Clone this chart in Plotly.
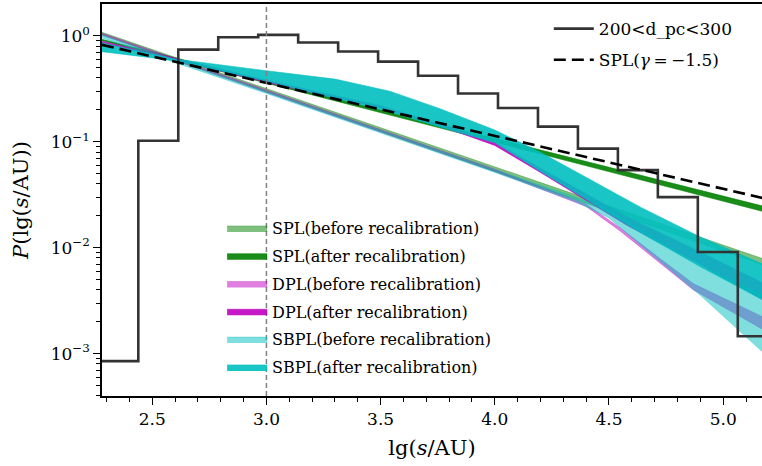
import plotly.graph_objects as go

# ---------------- data ----------------
hist_edges = [2.264, 2.439, 2.614, 2.789, 2.964, 3.139, 3.314, 3.489, 3.664,
              3.839, 4.014, 4.189, 4.364, 4.539, 4.714, 4.889, 5.064, 5.239]
hist_vals = [0.00085, 0.102, 0.74, 0.97, 1.02, 0.865, 0.71, 0.57, 0.42,
             0.285, 0.208, 0.139, 0.086, 0.054, 0.030, 0.0091, 0.00146]

spl15_x = [2.28, 5.18]
spl15_y = [0.822, 0.0292]

spl_before_x = [2.28, 5.18]
spl_before_hi = [1.08, 0.0078]
spl_before_lo = [1.02, 0.0068]

spl_after_x = [2.28, 5.18]
spl_after_hi = [0.925, 0.0245]
spl_after_lo = [0.90, 0.0218]

dpl_before_x = [2.28, 3.0, 4.0, 4.4, 4.55, 4.71, 4.87, 5.18]
dpl_before_hi = [1.059, 0.305, 0.0550, 0.0257, 0.0153, 0.00832, 0.00457, 0.00219]
dpl_before_lo = [1.012, 0.292, 0.0525, 0.0245, 0.0143, 0.00759, 0.00398, 0.00166]

dpl_after_x = [2.28, 2.6, 3.0, 3.5, 3.76, 4.0, 4.2, 4.58, 4.9, 5.18]
dpl_after_hi = [0.887, 0.614, 0.380, 0.219, 0.148, 0.0989, 0.0562, 0.0195, 0.00912, 0.00457]
dpl_after_lo = [0.855, 0.592, 0.363, 0.209, 0.141, 0.0923, 0.0513, 0.0162, 0.00692, 0.00316]

sbpl_before_x = [2.28, 3.0, 4.0, 4.35, 4.5, 4.64, 4.9, 5.18]
sbpl_before_hi = [1.023, 0.302, 0.0550, 0.0302, 0.0229, 0.0145, 0.00661, 0.00355]
sbpl_before_lo = [0.955, 0.285, 0.0513, 0.0275, 0.0191, 0.0105, 0.00355, 0.0010]

sbpl_after_x = [2.28, 2.6, 3.0, 3.3, 3.54, 3.76, 4.0, 4.2, 4.64, 4.9, 5.18]
sbpl_after_hi = [0.859, 0.603, 0.468, 0.390, 0.300, 0.205, 0.129, 0.0794, 0.0240, 0.0126, 0.00692]
sbpl_after_lo = [0.708, 0.582, 0.372, 0.257, 0.191, 0.138, 0.0977, 0.0525, 0.0138, 0.00661, 0.00316]

ytick_vals = [1e-3, 1e-2, 1e-1, 1]
ytick_text = ["10<sup>\u22123</sup>", "10<sup>\u22122</sup>", "10<sup>\u22121</sup>", "10<sup>0</sup>"]

FONT = "DejaVu Serif"

bands = [
    ("SPL(before recalibration)", spl_before_x, spl_before_hi, spl_before_lo, "rgba(0,128,0,0.5)"),
    ("SPL(after recalibration)", spl_after_x, spl_after_hi, spl_after_lo, "rgba(0,128,0,0.9)"),
    ("DPL(before recalibration)", dpl_before_x, dpl_before_hi, dpl_before_lo, "rgba(191,0,191,0.5)"),
    ("DPL(after recalibration)", dpl_after_x, dpl_after_hi, dpl_after_lo, "rgba(191,0,191,0.9)"),
    ("SBPL(before recalibration)", sbpl_before_x, sbpl_before_hi, sbpl_before_lo, "rgba(0,191,191,0.5)"),
    ("SBPL(after recalibration)", sbpl_after_x, sbpl_after_hi, sbpl_after_lo, "rgba(0,191,191,0.9)"),
]

fig = go.Figure()

for i, (name, xs, hi, lo, col) in enumerate(bands):
    fig.add_trace(go.Scatter(
        x=list(xs) + list(xs)[::-1],
        y=list(hi) + list(lo)[::-1],
        fill="toself", fillcolor=col,
        line=dict(color=col, width=0.6),
        mode="lines", name=name, legend="legend2",
        legendgroup=f"g{i}", hoverinfo="skip",
    ))

fig.add_trace(go.Scatter(
    x=hist_edges, y=hist_vals + [hist_vals[-1]],
    mode="lines", line=dict(color="#333333", width=2.6, shape="hv"),
    name="200<d_pc<300", legend="legend", legendgroup="h1",
))
fig.add_trace(go.Scatter(
    x=spl15_x, y=spl15_y, mode="lines",
    line=dict(color="black", width=2.6, dash="12px,6px"),
    name="SPL(<i>\u03b3</i>\u2009=\u2009\u22121.5)", legend="legend", legendgroup="h2",
))

fig.add_shape(type="line", x0=3.0, x1=3.0, y0=0, y1=1, xref="x", yref="paper",
              line=dict(color="gray", width=1.5, dash="5px,3px"), layer="above")

fig.update_layout(
    width=762, height=466,
    margin=dict(l=102, r=0, t=4, b=70, autoexpand=False),
    paper_bgcolor="white", plot_bgcolor="white",
    font=dict(family=FONT, color="black", size=16),
    showlegend=True,
    legend=dict(x=0.677, y=0.982, xanchor="left", yanchor="top",
                bgcolor="rgba(0,0,0,0)", font=dict(family=FONT, size=17),
                itemwidth=40, tracegroupgap=6),
    legend2=dict(x=0.182, y=0.472, xanchor="left", yanchor="top",
                 bgcolor="rgba(0,0,0,0)", font=dict(family=FONT, size=16),
                 itemwidth=40, tracegroupgap=4),
    xaxis=dict(range=[2.28, 5.17], showgrid=False, zeroline=False, automargin=False,
               showline=True, linecolor="black", linewidth=1.5, mirror=True,
               ticks="outside", ticklen=7, tickwidth=1.3, tickcolor="black",
               dtick=0.5, tick0=2.5, tickformat=".1f",
               tickfont=dict(family=FONT, size=17),
               minor=dict(ticks="outside", ticklen=4, dtick=0.1, tickcolor="black"),
               title=dict(text="lg(<i>s</i>/AU)", font=dict(family=FONT, size=21), standoff=12)),
    yaxis=dict(type="log", range=[-3.40, 0.30], showgrid=False, zeroline=False, automargin=False,
               showline=True, linecolor="black", linewidth=1.5,
               ticks="outside", ticklen=7, tickwidth=1.3, tickcolor="black",
               tickvals=ytick_vals, ticktext=ytick_text,
               tickfont=dict(family=FONT, size=17),
               minor=dict(ticks="outside", ticklen=4, dtick="D1", tickcolor="black"),
               title=dict(text="<i>P</i>(lg(<i>s</i>/AU))", font=dict(family=FONT, size=21), standoff=16)),
)

fig.write_html("out.html", config={"displayModeBar": False},
               post_script="document.body.style.margin='0';")
